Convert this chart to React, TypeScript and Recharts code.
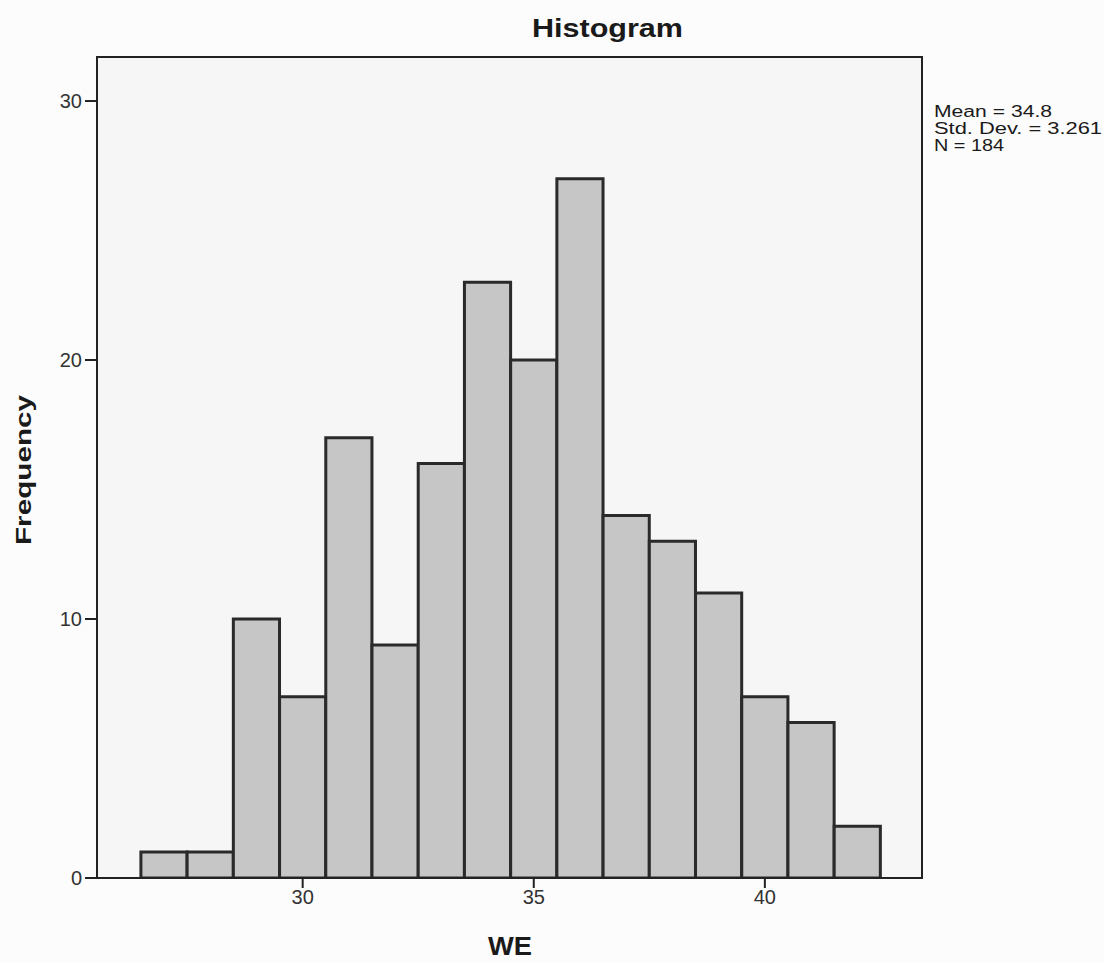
import React from 'react';
import { BarChart, Bar, XAxis, YAxis, CartesianGrid, ReferenceArea } from 'recharts';

// WE scores, one bin per integer value
const binCenters = [27, 28, 29, 30, 31, 32, 33, 34, 35, 36, 37, 38, 39, 40, 41, 42];
const frequencies = [1, 1, 10, 7, 17, 9, 16, 23, 20, 27, 14, 13, 11, 7, 6, 2];
const xTicks = [30, 35, 40];
const yTicks = [0, 10, 20, 30];
const statsLines = ['Mean = 34.8', 'Std. Dev. = 3.261', 'N = 184'];

const data = binCenters.map((we, i) => ({ we, count: frequencies[i] }));

const FONT = '"Liberation Sans", Arial, sans-serif';
const X_DOMAIN: [number, number] = [25.55, 43.4];
const Y_DOMAIN: [number, number] = [0, 31.7];
const PLOT_LEFT = 97;
const PLOT_RIGHT = 922;

export default function App() {
  const unitPx = (PLOT_RIGHT - PLOT_LEFT) / (X_DOMAIN[1] - X_DOMAIN[0]);
  const tickStyle = { fill: '#333', fontSize: 20, fontFamily: FONT };

  return (
    <div style={{ position: 'absolute', left: 0, top: 0, width: 1104, height: 963, background: '#fcfcfc' }}>
      <BarChart
        width={1104}
        height={963}
        data={data}
        margin={{ top: 57, right: 1104 - PLOT_RIGHT, bottom: 45, left: 37 }}
      >
        <CartesianGrid horizontal={false} vertical={false} fill="#f6f6f6" />
        {/* frame round the plot area */}
        <ReferenceArea
          x1={X_DOMAIN[0]}
          x2={X_DOMAIN[1]}
          y1={Y_DOMAIN[0]}
          y2={Y_DOMAIN[1]}
          fill="none"
          fillOpacity={0}
          stroke="#222"
          strokeWidth={2}
          strokeOpacity={1}
        />
        <XAxis
          dataKey="we"
          type="number"
          domain={X_DOMAIN}
          allowDataOverflow
          ticks={xTicks}
          height={40}
          tick={tickStyle}
          tickSize={10}
          tickMargin={2}
          axisLine={{ stroke: '#222', strokeWidth: 2 }}
          tickLine={{ stroke: '#222', strokeWidth: 2 }}
        />
        <YAxis
          type="number"
          domain={Y_DOMAIN}
          allowDataOverflow
          ticks={yTicks}
          width={60}
          tick={tickStyle}
          tickSize={12}
          tickMargin={3}
          axisLine={{ stroke: '#222', strokeWidth: 2 }}
          tickLine={{ stroke: '#222', strokeWidth: 2 }}
        />
        <Bar
          dataKey="count"
          barSize={unitPx - 0.05}
          fill="#c6c6c6"
          stroke="#2a2a2a"
          strokeWidth={3}
          isAnimationActive={false}
        />
      </BarChart>

      <svg
        width={1104}
        height={963}
        style={{ position: 'absolute', left: 0, top: 0, pointerEvents: 'none' }}
        fontFamily={FONT}
      >
        <text x={532} y={37} fontSize={26} fontWeight="bold" fill="#1a1a1a" textLength={151} lengthAdjust="spacingAndGlyphs">
          Histogram
        </text>
        <text
          x={0}
          y={0}
          transform="translate(31 470) rotate(-90)"
          textAnchor="middle"
          fontSize={22}
          fontWeight="bold"
          fill="#1a1a1a"
          textLength={150}
          lengthAdjust="spacingAndGlyphs"
        >
          Frequency
        </text>
        <text x={488} y={955} fontSize={26} fontWeight="bold" fill="#1a1a1a" textLength={44} lengthAdjust="spacingAndGlyphs">
          WE
        </text>
        {statsLines.map((line, i) => (
          <text
            key={line}
            x={934}
            y={117 + i * 17}
            fontSize={16}
            fill="#1a1a1a"
            textLength={[118, 168, 70][i]}
            lengthAdjust="spacingAndGlyphs"
          >
            {line}
          </text>
        ))}
      </svg>
    </div>
  );
}
